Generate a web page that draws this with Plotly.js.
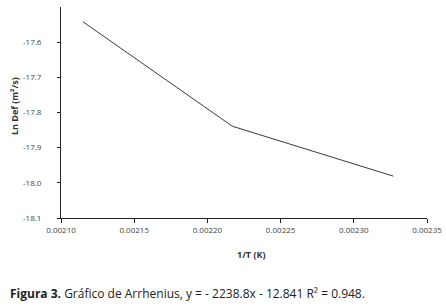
<!DOCTYPE html>
<html>
<head>
<meta charset="utf-8">
<script src="https://cdn.plot.ly/plotly-3.0.1.min.js"></script>
<style>html,body{margin:0;padding:0;background:#fff;}#chart{width:446px;height:307px;}</style>
</head>
<body>
<div id="chart"></div>
<script>
var invT = [0.002115, 0.002217, 0.002327];
var lnDef = [-17.542, -17.839, -17.981];
var xTicks = [0.00210, 0.00215, 0.00220, 0.00225, 0.00230, 0.00235];
var xTickText = ["0.00210", "0.00215", "0.00220", "0.00225", "0.00230", "0.00235"];
var yTicks = [-18.1, -18.0, -17.9, -17.8, -17.7, -17.6];
var yTickText = ["-18.1", "-18.0", "-17.9", "-17.8", "-17.7", "-17.6"];
var xTitle = "<b>1/T (K)</b>";
var yTitle = "<b>Ln Def (m²/s)</b>";
var caption = "<b>Figura 3.</b> Gráfico de Arrhenius, y = - 2238.8x - 12.841 R² = 0.948.";

var W = 446, H = 307, L = 61, R = 19, T = 7, B = 89;
var pw = W - L - R, ph = H - T - B;
function px(x) { return (x - L) / pw; }
function py(y) { return (T + ph - y) / ph; }

var font = "'Open Sans', 'Noto Sans', sans-serif";

Plotly.newPlot('chart', [{
  x: invT, y: lnDef, type: 'scatter', mode: 'lines',
  line: {color: '#3a3a3a', width: 1}, hoverinfo: 'skip'
}], {
  width: W, height: H,
  margin: {l: L, r: R, t: T, b: B, pad: 0},
  paper_bgcolor: '#fff', plot_bgcolor: '#fff',
  showlegend: false,
  font: {family: font, color: '#444', size: 8},
  xaxis: {
    range: [0.00210, 0.00235], tickvals: xTicks, ticktext: xTickText,
    showgrid: false, zeroline: false, showline: true, linecolor: '#222', linewidth: 1,
    ticks: 'outside', ticklen: 4, tickcolor: '#222', tickwidth: 1,
    tickfont: {family: font, size: 8, color: '#444'}
  },
  yaxis: {
    range: [-18.1, -17.5], tickvals: yTicks, ticktext: yTickText,
    showgrid: false, zeroline: false, showline: true, linecolor: '#222', linewidth: 1,
    ticks: 'outside', ticklen: 3, tickcolor: '#222', tickwidth: 1,
    ticklabelstandoff: 14,
    tickfont: {family: font, size: 8, color: '#444'}
  },
  annotations: [{
    xref: 'paper', yref: 'paper', x: px(251), y: py(254),
    xanchor: 'center', yanchor: 'middle', showarrow: false,
    text: xTitle, font: {family: font, size: 9, color: '#333'}
  }, {
    xref: 'paper', yref: 'paper', x: px(15), y: py(106),
    xanchor: 'center', yanchor: 'middle', showarrow: false, textangle: -90,
    text: yTitle, font: {family: font, size: 9, color: '#333'}
  }, {
    xref: 'paper', yref: 'paper', x: px(8), y: py(293),
    xanchor: 'left', yanchor: 'middle', showarrow: false,
    text: caption, font: {family: font, size: 12, color: '#222'}
  }]
}, {displayModeBar: false, staticPlot: true});
</script>
</body>
</html>
